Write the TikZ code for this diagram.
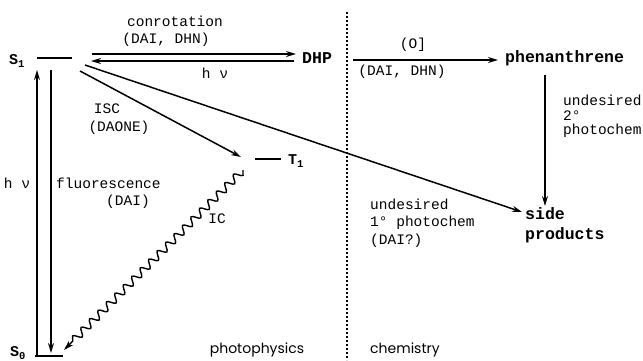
\documentclass[tikz,border=0pt]{standalone}
\usepackage{fontspec}
\setmonofont{Liberation Mono}
\newfontfamily\gothic{Poppins}
\usetikzlibrary{arrows.meta,decorations.pathmorphing}

\begin{document}
\begin{tikzpicture}[x=1pt,y=-1pt,
  lbl/.style={font=\ttfamily\fontsize{14.5}{17}\selectfont, inner sep=0},
  spc/.style={font=\ttfamily\bfseries\fontsize{16.5}{16.5}\selectfont, inner sep=0},
  state/.style={font=\ttfamily\bfseries\fontsize{15}{15}\selectfont, inner sep=0},
  area/.style={font=\gothic\fontsize{14}{16}\selectfont, inner sep=0},
  arr/.style={line width=1.5pt, -{Stealth[length=10pt,width=6pt]}},
  lvl/.style={line width=1.7pt},
  wave/.style={line width=1.4pt, -{Stealth[length=10pt,width=6pt]}, decorate,
    decoration={snake, amplitude=3.8pt, segment length=12pt, post length=10pt}},
  divider/.style={line width=1.3pt, dash pattern=on 2pt off 2pt}
]
\useasboundingbox (0,0) rectangle (643,360);

% energy levels
\node[state, anchor=west] (S1) at (9,61) {S\textsubscript{1}};
\node[state, anchor=west] (T1) at (288,161) {T\textsubscript{1}};
\node[state, anchor=west] (S0) at (10,353) {S\textsubscript{0}};
\coordinate (s1a) at (37,58);  \coordinate (s1b) at (72,58);
\coordinate (t1a) at (255,159); \coordinate (t1b) at (281,159);
\coordinate (s0a) at (35,356); \coordinate (s0b) at (63,356);
\draw[lvl] (s1a) -- (s1b);
\draw[lvl] (t1a) -- (t1b);
\draw[lvl] (s0a) -- (s0b);

% species
\node[spc, anchor=west] (DHP) at (302,58) {DHP};
\node[spc, anchor=west] (phen) at (505,58) {phenanthrene};
\node[spc, anchor=west] (side) at (525,214) {side};
\node[spc, anchor=west] (prod) at (525,235) {products};

% divider between the two regimes
\coordinate (divtop) at (347,12);
\coordinate (divbot) at (347,360);
\draw[divider] (divtop) -- (divbot);

% arrow end points
\coordinate (cr1) at (92,54);   \coordinate (cr2) at (296,54);
\coordinate (hv1) at (294,61);  \coordinate (hv2) at (91,61);
\coordinate (ox1) at (353,60);  \coordinate (ox2) at (498,60);
\coordinate (sp1) at (85,65);   \coordinate (sp2) at (522,212);
\coordinate (isc1) at (80,71);  \coordinate (isc2) at (241,157);
\coordinate (ph1) at (545,75);  \coordinate (ph2) at (545,206);
\coordinate (up1) at (37,356);  \coordinate (up2) at (37,70);
\coordinate (fl1) at (51,70);   \coordinate (fl2) at (51,353);
\coordinate (ic1) at (243,170); \coordinate (ic2) at (64,350);

\draw[arr] (cr1) -- (cr2);
\draw[arr] (hv1) -- (hv2);
\draw[arr] (ox1) -- (ox2);
\draw[arr] (sp1) -- (sp2);
\draw[arr] (isc1) -- (isc2);
\draw[arr] (ph1) -- (ph2);
\draw[arr] (up1) -- (up2);
\draw[arr] (fl1) -- (fl2);
\draw[wave] (ic1) -- (ic2);

% process labels
\node[lbl] (conrot) at (175,21) {conrotation};
\node[lbl] (conrotc) at (166,40) {(DAI, DHN)};
\node[lbl] (hvback) at (215,73) {h ν};
\node[lbl] (ox) at (413,45) {(O]};
\node[lbl] (oxc) at (402,72) {(DAI, DHN)};
\node[lbl, anchor=west] (und2a) at (563,100) {undesired};
\node[lbl, anchor=west] (und2b) at (563,116) {2°};
\node[lbl, anchor=west] (und2c) at (563,131) {photochem};
\node[lbl] (isc) at (107,109) {ISC};
\node[lbl] (iscc) at (119,128) {(DAONE)};
\node[lbl] (hvup) at (17,183) {h ν};
\node[lbl, anchor=west] (fluor) at (56,183) {fluorescence};
\node[lbl] (fluorc) at (128,202) {(DAI)};
\node[lbl] (ic) at (217,219) {IC};
\node[lbl, anchor=west] (und1a) at (370,204) {undesired};
\node[lbl, anchor=west] (und1b) at (370,223) {1° photochem};
\node[lbl, anchor=west] (und1c) at (370,241) {(DAI?)};

% regime captions
\node[area] (phys) at (257,350) {photophysics};
\node[area, anchor=west] (chem) at (370,350) {chemistry};
\end{tikzpicture}
\end{document}
